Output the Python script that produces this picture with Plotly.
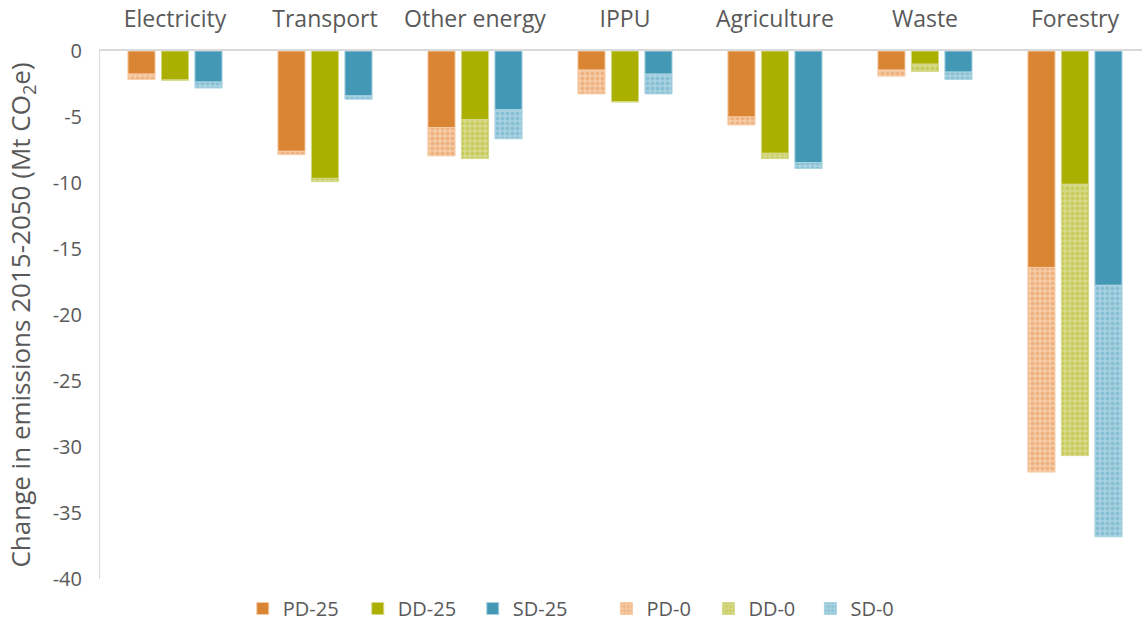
import plotly.graph_objects as go

categories = ["Electricity", "Transport", "Other energy", "IPPU", "Agriculture", "Waste", "Forestry"]

# Solid bars: change under the -25 scenarios (Mt CO2e)
pd25 = [-1.75, -7.6, -5.8, -1.45, -5.0, -1.45, -16.4]
dd25 = [-2.2, -9.65, -5.2, -3.85, -7.75, -1.0, -10.1]
sd25 = [-2.35, -3.4, -4.45, -1.75, -8.45, -1.6, -17.75]

# Hatched bars: total change under the -0 scenarios (Mt CO2e)
pd0 = [-2.15, -7.85, -7.95, -3.25, -5.6, -1.9, -31.9]
dd0 = [-2.2, -9.9, -8.15, -3.85, -8.15, -1.55, -30.65]
sd0 = [-2.8, -3.65, -6.65, -3.25, -8.9, -2.15, -36.8]

y_ticks = [0, -5, -10, -15, -20, -25, -30, -35, -40]
y_tick_text = ["0", "-5", "-10", "-15", "-20", "-25", "-30", "-35", "-40"]

solid_colors = ["#DA8534", "#AAAF00", "#4398B6"]
light_colors = ["#F6CBA6", "#D6D98A", "#A9D2E1"]
mid_colors = ["#E69A5C", "#BABF2E", "#66ADC7"]

fig = go.Figure()

solid_series = [("PD-25", pd25), ("DD-25", dd25), ("SD-25", sd25)]
hatch_series = [("PD-0", pd0), ("DD-0", dd0), ("SD-0", sd0)]

for i, (name, vals) in enumerate(solid_series):
    fig.add_trace(go.Bar(
        x=categories, y=vals, name=name, offsetgroup=str(i),
        marker=dict(color=solid_colors[i], line=dict(color=light_colors[i], width=1)),
        legend="legend",
    ))

for i, (name, totals) in enumerate(hatch_series):
    base = solid_series[i][1]
    extra = [t - b for t, b in zip(totals, base)]
    fig.add_trace(go.Bar(
        x=categories, y=extra, base=base, name=name, offsetgroup=str(i),
        marker=dict(
            color=light_colors[i],
            line=dict(color=light_colors[i], width=1),
            pattern=dict(shape=".", fgcolor=mid_colors[i], bgcolor=light_colors[i],
                         size=5, solidity=0.5),
        ),
        legend="legend2",
    ))

font_family = "'Open Sans', Lato, sans-serif"
text_color = "#595959"

plot_h = 628 - 50 - 45
legend_y = -30 / plot_h

fig.update_layout(
    width=1142, height=628,
    margin=dict(l=100, r=0, t=51, b=44),
    paper_bgcolor="white", plot_bgcolor="white",
    barmode="group", bargap=0.33, bargroupgap=0.19,
    font=dict(family=font_family, size=19, color=text_color),
    xaxis=dict(
        side="top", type="category", automargin=False,
        range=[-0.5, 6.447],
        showline=True, linecolor="#D9D9D9", linewidth=2,
        showgrid=False, ticks="", ticklabelstandoff=13,
        tickfont=dict(size=23, color=text_color),
    ),
    yaxis=dict(
        range=[-40, 0], automargin=False,
        tickvals=y_ticks, ticktext=y_tick_text,
        showline=True, linecolor="#D9D9D9", linewidth=1,
        showgrid=False, zeroline=False, ticks="", ticklabelstandoff=13,
        tickfont=dict(size=20, color=text_color),
        title=dict(text="Change in emissions 2015-2050 (Mt CO<sub>2</sub>e)",
                   font=dict(size=26, color=text_color), standoff=14),
    ),
    legend=dict(
        orientation="h", x=0.137, xanchor="left", y=legend_y, yanchor="middle",
        font=dict(size=20, color=text_color), entrywidth=70, entrywidthmode="pixels",
        itemwidth=30, bgcolor="rgba(0,0,0,0)", traceorder="normal",
    ),
    legend2=dict(
        orientation="h", x=0.486, xanchor="left", y=legend_y, yanchor="middle",
        font=dict(size=20, color=text_color), entrywidth=57, entrywidthmode="pixels",
        itemwidth=30, bgcolor="rgba(0,0,0,0)", traceorder="normal",
    ),
    showlegend=True,
)

fig.write_html("out.html", post_script="document.body.style.margin='0';",
               config={"displayModeBar": False})
